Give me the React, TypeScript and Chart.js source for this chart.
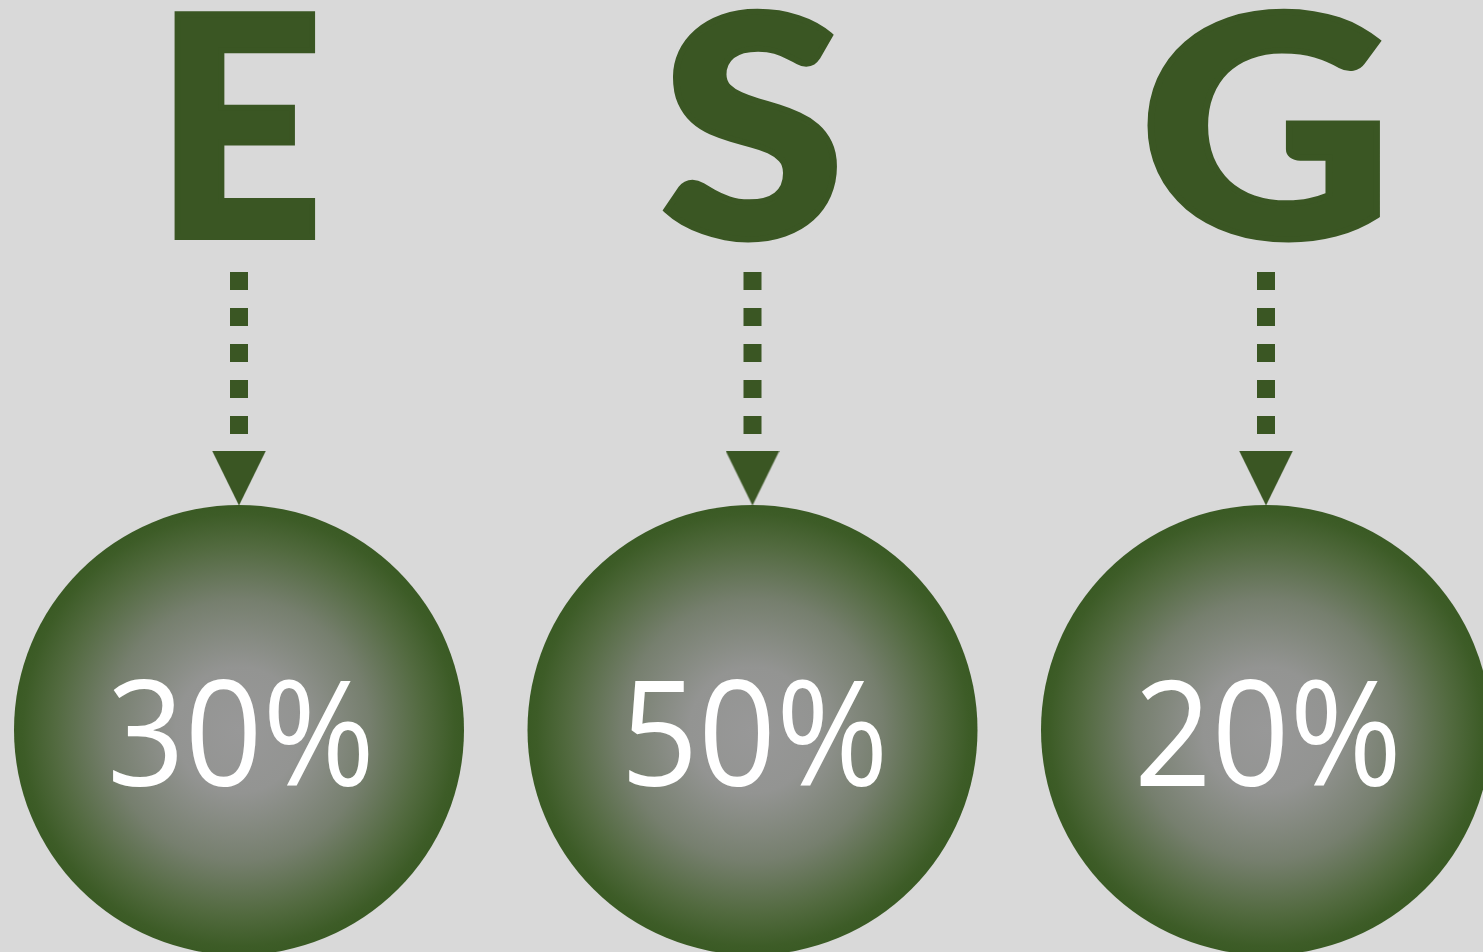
import { useEffect, useRef } from "react";
import { Chart, registerables } from "chart.js";

Chart.register(...registerables);

// ---- data ----
const categories = ["Environmental", "Social", "Governance"];
const letters = ["E", "S", "G"];
const shares = [30, 50, 20];
const shareLabels = ["30%", "50%", "20%"];

// ---- styling / layout ----
const W = 1483;
const H = 952;
const BG = "#d9d9d9";
const GREEN = "#3a5623";
const EDGE = "#3a5a24";
const CENTER = "#989898";
const STEP = 513.5; // pixels between category centres
const FIRST = 239; // pixel of first category centre
const X_MIN = -FIRST / STEP;
const X_MAX = X_MIN + W / STEP;
const CIRCLE_Y = 730;
const CIRCLE_R = 225;
const STEM_TOP = 272;
const STEM_BOTTOM = 434;
const ARROW_Y = 478;
const LETTER_BASE = 237;
const LETTER_SIZE = 307;
const LETTER_STROKE = 6;
const LETTER_STRETCH: Record<string, number> = { E: 0.95, S: 1.09, G: 1.14 };
const PCT_BASE = 786;
const PCT_SIZE = 147;
const PCT_WIDTH = 268;

function makeArrow(): HTMLCanvasElement {
  const c = document.createElement("canvas");
  c.width = 54;
  c.height = 55;
  const g = c.getContext("2d")!;
  g.fillStyle = GREEN;
  g.beginPath();
  g.moveTo(0, 0);
  g.lineTo(54, 0);
  g.lineTo(27, 55);
  g.closePath();
  g.fill();
  return c;
}

const textPlugin = {
  id: "esgText",
  afterDatasetsDraw(chart: any) {
    const { ctx, scales } = chart;
    const x = scales.x;
    const y = scales.y;
    categories.forEach((_c, i) => {
      const px = x.getPixelForValue(i);
      const letter = letters[i];
      ctx.save();
      ctx.textAlign = "center";
      ctx.textBaseline = "alphabetic";
      ctx.fillStyle = GREEN;
      ctx.strokeStyle = GREEN;
      ctx.lineWidth = LETTER_STROKE;
      ctx.lineJoin = "miter";
      ctx.font = `900 ${LETTER_SIZE}px Lato`;
      ctx.translate(px, y.getPixelForValue(LETTER_BASE));
      ctx.scale(LETTER_STRETCH[letter] ?? 1, 1);
      ctx.fillText(letter, 0, 0);
      ctx.strokeText(letter, 0, 0);
      ctx.restore();

      ctx.save();
      ctx.fillStyle = "#ffffff";
      ctx.font = `${PCT_SIZE}px "Open Sans"`;
      ctx.textAlign = "center";
      ctx.textBaseline = "alphabetic";
      const label = shareLabels[i] ?? `${shares[i]}%`;
      const w = ctx.measureText(label).width;
      const s = w > 0 ? PCT_WIDTH / w : 1;
      ctx.translate(px + 2, y.getPixelForValue(PCT_BASE));
      ctx.scale(s, 1);
      ctx.fillText(label, 0, 0);
      ctx.restore();
    });
  },
};

export default function App() {
  const ref = useRef<HTMLCanvasElement | null>(null);

  useEffect(() => {
    if (!ref.current) return;
    const arrow = makeArrow();

    const stems = categories.map((c, i) => ({
      type: "scatter" as const,
      label: `${c} stem`,
      data: [
        { x: i, y: STEM_TOP },
        { x: i, y: STEM_BOTTOM },
      ],
      showLine: true,
      borderColor: GREEN,
      borderWidth: 18,
      borderDash: [18, 18],
      borderCapStyle: "butt" as const,
      pointRadius: 0,
      pointHoverRadius: 0,
      clip: false as const,
    }));

    const chart = new Chart(ref.current, {
      type: "scatter",
      data: {
        datasets: [
          {
            label: "arrows",
            data: categories.map((_c, i) => ({ x: i, y: ARROW_Y })),
            pointStyle: arrow as any,
            pointRadius: 27,
            backgroundColor: GREEN,
            borderWidth: 0,
            clip: false as const,
          },
          ...stems,
          {
            label: "shares",
            data: categories.map((_c, i) => ({ x: i, y: CIRCLE_Y, v: shares[i] })),
            pointRadius: CIRCLE_R,
            pointHoverRadius: CIRCLE_R,
            borderWidth: 0,
            clip: false as const,
            backgroundColor: (ctx: any) => {
              const chartRef = ctx.chart;
              const raw = ctx.raw;
              if (!raw || !chartRef.scales || !chartRef.scales.x || !chartRef.scales.y) return EDGE;
              const cx = chartRef.scales.x.getPixelForValue(raw.x);
              const cy = chartRef.scales.y.getPixelForValue(raw.y);
              if (!Number.isFinite(cx) || !Number.isFinite(cy)) return EDGE;
              const g = chartRef.ctx.createRadialGradient(cx, cy, 0, cx, cy, CIRCLE_R);
              g.addColorStop(0, CENTER);
              g.addColorStop(0.28, "#939492");
              g.addColorStop(0.58, "#767f6e");
              g.addColorStop(0.82, "#526a3f");
              g.addColorStop(0.96, "#3d5c27");
              g.addColorStop(1, EDGE);
              return g;
            },
          },
        ],
      },
      options: {
        responsive: false,
        animation: false,
        events: [],
        layout: { padding: 0, autoPadding: false },
        plugins: {
          legend: { display: false },
          tooltip: { enabled: false },
        },
        scales: {
          x: { type: "linear", min: X_MIN, max: X_MAX, display: false },
          y: { type: "linear", min: 0, max: H, reverse: true, display: false },
        },
      },
      plugins: [textPlugin],
    });

    return () => chart.destroy();
  }, []);

  return (
    <div
      style={{
        position: "fixed",
        left: 0,
        top: 0,
        width: W,
        height: H,
        background: BG,
        overflow: "hidden",
      }}
    >
      <canvas ref={ref} width={W} height={H} style={{ display: "block", width: W, height: H }} />
    </div>
  );
}
